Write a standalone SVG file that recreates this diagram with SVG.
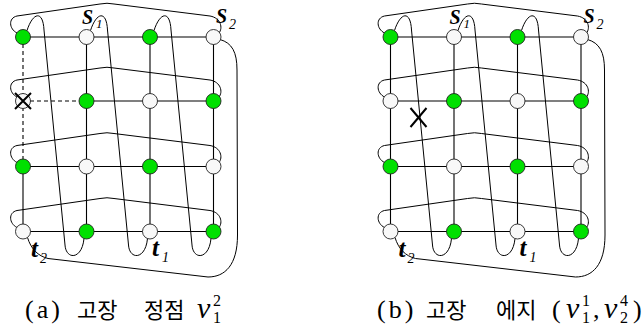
<svg xmlns="http://www.w3.org/2000/svg" width="644" height="334" viewBox="0 0 644 334">
<style>
.e{fill:none;stroke:#000;stroke-width:1.1}
.d{fill:none;stroke:#000;stroke-width:1.1;stroke-dasharray:4,3}
.c{fill:none;stroke:#000;stroke-width:1}
.n{stroke:#222;stroke-width:0.9}
.g{fill:#00e000}
.w{fill:#f8f8f8}
.x{stroke:#000;stroke-width:2;fill:none}
.lb{font-family:'Liberation Serif','DejaVu Serif','Times New Roman',serif;font-style:italic;font-weight:bold;fill:#000}
.sb{font-family:'Liberation Serif','DejaVu Serif','Times New Roman',serif;font-style:italic;fill:#000}
.cap{font-family:'Liberation Serif','DejaVu Serif','Times New Roman',serif;font-size:26px;fill:#000}
.kr{font-family:'Noto Sans CJK KR',sans-serif;font-size:22px;fill:#000}
.mi{font-family:'Liberation Serif','DejaVu Serif','Times New Roman',serif;font-style:italic;font-size:30px;fill:#000}
.ms{font-family:'Liberation Serif','DejaVu Serif','Times New Roman',serif;font-size:16px;fill:#000}
</style>
<defs>
<g id="wraps">
<path class="c" d="M27,30.5 C33,12 43,10 44,30 L65,245 C66,260 82,260 84,238.5"/>
<path class="c" d="M90.5,30.5 C96.5,12 106.5,10 107.5,30 L128.5,245 C129.5,260 145.5,260 147.5,238.5"/>
<path class="c" d="M154,30.5 C160,12 170,10 171,30 L192,245 C193,260 209,260 211,238.5"/>
<path class="c" d="M220,39.5 C232,43 237,52 237,70 L237.5,235 C237.5,265 225,277 208,277 L48,258.5 C38,256 31,249 27.5,237.5"/>
<path class="c" d="M17,33 C9,29 8,18 17,16 L100,4 Q107,2.5 114,4 L210,16 C221,18 223,28 219,33"/>
<path class="c" d="M17,97 C9,93 8,82 17,80 L100,68 Q107,66.5 114,68 L210,80 C221,82 223,92 219,97"/>
<path class="c" d="M17,162.5 C9,158.5 8,147.5 17,145.5 L100,133.5 Q107,132 114,133.5 L210,145.5 C221,147.5 223,157.5 219,162.5"/>
<path class="c" d="M17,227.5 C9,223.5 8,212.5 17,210.5 L100,198.5 Q107,197 114,198.5 L210,210.5 C221,212.5 223,222.5 219,227.5"/>
</g>
</defs>

<!-- Graph (a) -->
<g id="graph-a">
<g id="a-connectors">
<use href="#wraps"/>
<path class="e" d="M23,37 H213.5 M86.5,101 H213.5 M23,166.5 H213.5 M23,231.5 H213.5"/>
<path class="e" d="M23,166.5 V231.5 M86.5,37 V231.5 M150,37 V231.5 M213.5,37 V231.5"/>
<path class="d" d="M23,37 V166.5 M23,101 H86.5"/>
</g>
<g id="a-v11"><circle class="n g" cx="23" cy="37" r="7.5"/></g>
<g id="a-v21"><circle class="n w" cx="86.5" cy="37" r="7.5"/></g>
<g id="a-v31"><circle class="n g" cx="150" cy="37" r="7.5"/></g>
<g id="a-v41"><circle class="n w" cx="213.5" cy="37" r="7.5"/></g>
<g id="a-v12"><circle class="n w" cx="23" cy="101" r="7.5"/><path class="x" d="M15,93 L31,109 M31,93 L15,109"/></g>
<g id="a-v22"><circle class="n g" cx="86.5" cy="101" r="7.5"/></g>
<g id="a-v32"><circle class="n w" cx="150" cy="101" r="7.5"/></g>
<g id="a-v42"><circle class="n g" cx="213.5" cy="101" r="7.5"/></g>
<g id="a-v13"><circle class="n g" cx="23" cy="166.5" r="7.5"/></g>
<g id="a-v23"><circle class="n w" cx="86.5" cy="166.5" r="7.5"/></g>
<g id="a-v33"><circle class="n g" cx="150" cy="166.5" r="7.5"/></g>
<g id="a-v43"><circle class="n w" cx="213.5" cy="166.5" r="7.5"/></g>
<g id="a-v14"><circle class="n w" cx="23" cy="231.5" r="7.5"/></g>
<g id="a-v24"><circle class="n g" cx="86.5" cy="231.5" r="7.5"/></g>
<g id="a-v34"><circle class="n w" cx="150" cy="231.5" r="7.5"/></g>
<g id="a-v44"><circle class="n g" cx="213.5" cy="231.5" r="7.5"/></g>
<g id="a-labels">
<text class="lb" x="82" y="24" font-size="20">S</text><text class="sb" x="96" y="28" font-size="13">1</text>
<text class="lb" x="216" y="23" font-size="20">S</text><text class="sb" x="229" y="29" font-size="14">2</text>
<text class="lb" x="31" y="257" font-size="25">t</text><text class="sb" x="40" y="263" font-size="14">2</text>
<text class="lb" x="152" y="256" font-size="25">t</text><text class="sb" x="162" y="262" font-size="14">1</text>
</g>
</g>

<!-- Graph (b) -->
<g id="graph-b" transform="translate(367.5,0)">
<g id="b-connectors">
<use href="#wraps"/>
<path class="e" d="M23,37 H213.5 M23,101 H213.5 M23,166.5 H213.5 M23,231.5 H213.5"/>
<path class="e" d="M23,37 V231.5 M86.5,37 V231.5 M150,37 V231.5 M213.5,37 V231.5"/>
<path class="x" d="M43,108 L59,127 M59,108 L43,127"/>
</g>
<g id="b-v11"><circle class="n g" cx="23" cy="37" r="7.5"/></g>
<g id="b-v21"><circle class="n w" cx="86.5" cy="37" r="7.5"/></g>
<g id="b-v31"><circle class="n g" cx="150" cy="37" r="7.5"/></g>
<g id="b-v41"><circle class="n w" cx="213.5" cy="37" r="7.5"/></g>
<g id="b-v12"><circle class="n w" cx="23" cy="101" r="7.5"/></g>
<g id="b-v22"><circle class="n g" cx="86.5" cy="101" r="7.5"/></g>
<g id="b-v32"><circle class="n w" cx="150" cy="101" r="7.5"/></g>
<g id="b-v42"><circle class="n g" cx="213.5" cy="101" r="7.5"/></g>
<g id="b-v13"><circle class="n g" cx="23" cy="166.5" r="7.5"/></g>
<g id="b-v23"><circle class="n w" cx="86.5" cy="166.5" r="7.5"/></g>
<g id="b-v33"><circle class="n g" cx="150" cy="166.5" r="7.5"/></g>
<g id="b-v43"><circle class="n w" cx="213.5" cy="166.5" r="7.5"/></g>
<g id="b-v14"><circle class="n w" cx="23" cy="231.5" r="7.5"/></g>
<g id="b-v24"><circle class="n g" cx="86.5" cy="231.5" r="7.5"/></g>
<g id="b-v34"><circle class="n w" cx="150" cy="231.5" r="7.5"/></g>
<g id="b-v44"><circle class="n g" cx="213.5" cy="231.5" r="7.5"/></g>
<g id="b-labels">
<text class="lb" x="82" y="24" font-size="20">S</text><text class="sb" x="96" y="28" font-size="13">1</text>
<text class="lb" x="216" y="23" font-size="20">S</text><text class="sb" x="229" y="29" font-size="14">2</text>
<text class="lb" x="31" y="257" font-size="25">t</text><text class="sb" x="40" y="263" font-size="14">2</text>
<text class="lb" x="152" y="256" font-size="25">t</text><text class="sb" x="162" y="262" font-size="14">1</text>
</g>
</g>

<!-- Captions -->
<g id="caption-a">
<text class="cap" x="25" y="318" letter-spacing="3">(a)</text>
<text class="kr" x="77" y="318">고장</text>
<text class="kr" x="144" y="318">정점</text>
<text class="mi" x="197" y="318">v</text>
<text class="ms" x="213" y="306">2</text>
<text class="ms" x="213" y="323">1</text>
</g>
<g id="caption-b">
<text class="cap" x="377" y="318" letter-spacing="3">(b)</text>
<text class="kr" x="426" y="318">고장</text>
<text class="kr" x="496" y="318">에지</text>
<text class="cap" x="552" y="318">(</text>
<text class="mi" x="566" y="318">v</text>
<text class="ms" x="582" y="306">1</text>
<text class="ms" x="582" y="323">1</text>
<text class="cap" x="593" y="318">,</text>
<text class="mi" x="604" y="318">v</text>
<text class="ms" x="620" y="306">4</text>
<text class="ms" x="620" y="323">2</text>
<text class="cap" x="633" y="318">)</text>
</g>
</svg>
